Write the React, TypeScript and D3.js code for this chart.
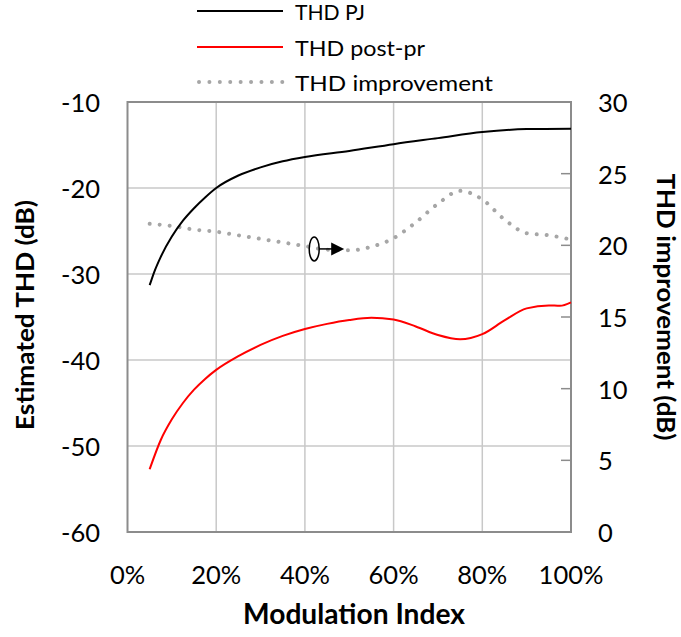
import React from "react";
import * as d3 from "d3";

// ---- data ----
const pjX = [0.05, 0.06, 0.075, 0.1, 0.125, 0.15, 0.175, 0.2, 0.25, 0.3, 0.35, 0.4, 0.5, 0.6, 0.7, 0.8, 0.9, 1.0];
const pjY = [-31.3, -29.8, -28.0, -25.65, -23.8, -22.35, -21.1, -20.0, -18.55, -17.6, -16.9, -16.4, -15.7, -14.9, -14.2, -13.5, -13.15, -13.1];

const postX = [0.05, 0.075, 0.1, 0.125, 0.15, 0.175, 0.2, 0.25, 0.3, 0.35, 0.4, 0.45, 0.5, 0.55, 0.6, 0.65, 0.7, 0.75, 0.8, 0.85, 0.9, 0.95, 0.975, 1.0];
const postY = [-52.7, -49.3, -46.9, -45.0, -43.45, -42.2, -41.15, -39.55, -38.25, -37.2, -36.4, -35.8, -35.35, -35.1, -35.3, -36.1, -37.1, -37.6, -37.0, -35.4, -34.0, -33.65, -33.7, -33.3];

const impX = [0.05, 0.1, 0.15, 0.2, 0.25, 0.3, 0.35, 0.4, 0.45, 0.5, 0.55, 0.6, 0.65, 0.7, 0.75, 0.8, 0.85, 0.9, 0.95, 1.0];
const impY = [21.5, 21.35, 21.1, 20.95, 20.7, 20.45, 20.2, 19.95, 19.7, 19.65, 19.9, 20.5, 21.6, 22.9, 23.8, 23.2, 21.8, 20.85, 20.7, 20.4];

const xTicks = [0, 0.2, 0.4, 0.6, 0.8, 1.0];
const xTickLabels = ["0%", "20%", "40%", "60%", "80%", "100%"];
const leftTicks = [-10, -20, -30, -40, -50, -60];
const rightTicks = [0, 5, 10, 15, 20, 25, 30];

const seriesNames = ["THD PJ", "THD post-pr", "THD improvement"];
const xTitle = "Modulation Index";
const yLeftTitle = "Estimated THD (dB)";
const yRightTitle = "THD improvement (dB)";

const W = 681;
const H = 637;
const FONT = "Lato, 'Open Sans', sans-serif";

export default function App() {
  const x = d3.scaleLinear().domain([0, 1]).range([127.5, 571]);
  const yL = d3.scaleLinear().domain([-60, -10]).range([532, 102]);
  const yR = d3.scaleLinear().domain([0, 30]).range([532, 102]);

  const line = (xs: number[], ys: number[], ys2: d3.ScaleLinear<number, number>) =>
    d3
      .line<number>()
      .x((_, i) => x(xs[i]))
      .y((v) => ys2(v))
      .curve(d3.curveMonotoneX)(ys) || "";

  const pjPath = line(pjX, pjY, yL);
  const postPath = line(postX, postY, yL);
  const impPath = line(impX, impY, yR);

  const [x0, x1] = x.range();
  const [yb, yt] = yL.range();

  const legendColors = ["#000000", "#ff0000", "#a6a6a6"];
  const legendY = [11, 47, 82];
  const legendLen = [70, 130, 198];

  const ax = x(0.43);
  const ay = yR(19.75);

  return (
    <svg
      width={W}
      height={H}
      style={{ position: "absolute", left: 0, top: 0, background: "#fff" }}
      fontFamily={FONT}
    >
      <rect x={0} y={0} width={W} height={H} fill="#fff" />
      {/* grid */}
      {xTicks.slice(1, -1).map((t) => (
        <line key={"vx" + t} x1={x(t)} x2={x(t)} y1={yt} y2={yb} stroke="#c8c8c8" strokeWidth={1.5} />
      ))}
      {leftTicks.slice(1, -1).map((t) => (
        <line key={"hy" + t} x1={x0} x2={x1} y1={yL(t)} y2={yL(t)} stroke="#c8c8c8" strokeWidth={1.5} />
      ))}
      {/* right axis inner ticks */}
      {rightTicks.slice(1, -1).map((t) => (
        <line key={"rt" + t} x1={x1 - 10} x2={x1} y1={yR(t)} y2={yR(t)} stroke="#8c8c8c" strokeWidth={1.5} />
      ))}
      {/* border */}
      <rect x={x0} y={yt} width={x1 - x0} height={yb - yt} fill="none" stroke="#8c8c8c" strokeWidth={2} />

      {/* series */}
      <path
        d={impPath}
        fill="none"
        stroke="#a6a6a6"
        strokeWidth={4}
        strokeLinecap="round"
        strokeDasharray="0.01 10"
      />
      <path d={pjPath} fill="none" stroke="#000" strokeWidth={2} />
      <path d={postPath} fill="none" stroke="#ff0000" strokeWidth={2} />

      {/* annotation: ellipse + arrow pointing right */}
      <ellipse cx={ax - 4} cy={ay} rx={5} ry={12} fill="none" stroke="#000" strokeWidth={1.5} />
      <line x1={ax + 1} x2={ax + 14} y1={ay} y2={ay} stroke="#000" strokeWidth={1.5} />
      <path d={`M${ax + 13},${ay - 6.5} L${ax + 26},${ay} L${ax + 13},${ay + 6.5} Z`} fill="#000" />

      {/* x tick labels */}
      {xTicks.map((t, i) => (
        <text key={"xl" + t} x={x(t)} y={574} textAnchor="middle" dominantBaseline="central" fontSize={25.5} fill="#000">
          {xTickLabels[i]}
        </text>
      ))}
      {/* left tick labels */}
      {leftTicks.map((t) => (
        <text key={"yl" + t} x={100} y={yL(t)} textAnchor="end" dominantBaseline="central" fontSize={25.5} fill="#000">
          {t}
        </text>
      ))}
      {/* right tick labels */}
      {rightTicks.map((t) => (
        <text key={"yr" + t} x={598} y={yR(t)} textAnchor="start" dominantBaseline="central" fontSize={25.5} fill="#000">
          {t}
        </text>
      ))}

      {/* axis titles */}
      <text
        x={354}
        y={613}
        textAnchor="middle"
        dominantBaseline="central"
        fontSize={28}
        fontWeight="bold"
        textLength={222}
        lengthAdjust="spacingAndGlyphs"
        fill="#000"
      >
        {xTitle}
      </text>
      <text
        transform={`translate(24,315) rotate(-90)`}
        textAnchor="middle"
        dominantBaseline="central"
        fontSize={25}
        fontWeight="bold"
        textLength={230}
        lengthAdjust="spacingAndGlyphs"
        fill="#000"
      >
        {yLeftTitle}
      </text>
      <text
        transform={`translate(666,307) rotate(90)`}
        textAnchor="middle"
        dominantBaseline="central"
        fontSize={24}
        fontWeight="bold"
        textLength={267}
        lengthAdjust="spacingAndGlyphs"
        fill="#000"
      >
        {yRightTitle}
      </text>

      {/* legend */}
      {seriesNames.map((name, i) => (
        <g key={name}>
          {i < 2 ? (
            <line x1={197} x2={283} y1={legendY[i]} y2={legendY[i]} stroke={legendColors[i]} strokeWidth={2} />
          ) : (
            <line
              x1={199}
              x2={283}
              y1={legendY[i]}
              y2={legendY[i]}
              stroke={legendColors[i]}
              strokeWidth={4}
              strokeLinecap="round"
              strokeDasharray="0.01 10.4"
            />
          )}
          <text
            x={295}
            y={legendY[i]}
            dominantBaseline="central"
            fontSize={21}
            textLength={legendLen[i]}
            lengthAdjust="spacingAndGlyphs"
            fill="#000"
          >
            {name}
          </text>
        </g>
      ))}
    </svg>
  );
}
